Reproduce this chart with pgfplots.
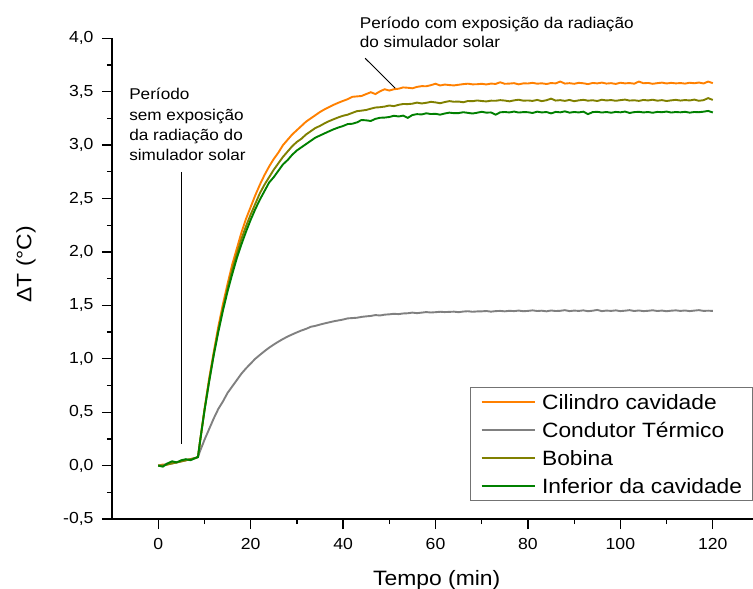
\documentclass[border=0pt]{standalone}
\usepackage{fontspec}
\setmainfont{Liberation Sans}[FakeStretch=1.1]
\usepackage{pgfplots}
\usepackage{pgfplotstable}
\pgfplotsset{compat=1.18}

\definecolor{corange}{RGB}{255,128,0}
\definecolor{cgray}{RGB}{128,128,128}
\definecolor{colive}{RGB}{128,128,0}
\definecolor{cgreen}{RGB}{0,128,0}

% t (min)   Cilindro  Condutor  Bobina  Inferior
\pgfplotstableread{
t    cil   cond  bob   inf
0    0.00  0.00  0.00  0.00
1    0.01  0.00  0.00  -0.01
2    0.01  0.02  0.01  0.02
3    0.03  0.02  0.02  0.04
4    0.03  0.03  0.03  0.03
5    0.04  0.04  0.04  0.05
6    0.05  0.05  0.05  0.06
7    0.06  0.06  0.06  0.05
8    0.07  0.07  0.07  0.07
8.6  0.08  0.08  0.08  0.08
9    0.21  0.13  0.21  0.21
10   0.52  0.24  0.52  0.51
11   0.81  0.34  0.79  0.78
12   1.06  0.44  1.04  1.03
13   1.30  0.53  1.27  1.25
14   1.51  0.60  1.47  1.45
15   1.70  0.68  1.66  1.63
16   1.88  0.74  1.83  1.79
17   2.03  0.80  1.98  1.94
18   2.18  0.86  2.12  2.07
19   2.31  0.91  2.24  2.19
20   2.42  0.955 2.35  2.30
21   2.53  1.00  2.45  2.40
22   2.63  1.036 2.55  2.49
23   2.72  1.071 2.63  2.57
24   2.80  1.104 2.70  2.65
25   2.87  1.133 2.77  2.70
26   2.93  1.160 2.83  2.76
27   3.00  1.185 2.89  2.82
28   3.05  1.208 2.94  2.86
29   3.10  1.228 2.99  2.91
30   3.14  1.247 3.03  2.95
31   3.18  1.265 3.06  2.98
32   3.22  1.280 3.10  3.01
33   3.25  1.299 3.13  3.04
34   3.28  1.308 3.16  3.07
35   3.31  1.320 3.18  3.09
36   3.335 1.331 3.204 3.11
37   3.357 1.341 3.225 3.13
38   3.378 1.351 3.243 3.149
39   3.397 1.359 3.260 3.165
40   3.414 1.367 3.275 3.179
41   3.43  1.378 3.285 3.197
42   3.452 1.381 3.302 3.200
43   3.456 1.384 3.318 3.213
44   3.46  1.392 3.323 3.235
45   3.478 1.397 3.329 3.232
46   3.495 1.401 3.341 3.226
47   3.478 1.409 3.352 3.246
48   3.504 1.405 3.355 3.256
49   3.523 1.413 3.361 3.258
50   3.511 1.416 3.371 3.263
51   3.523 1.421 3.365 3.275
52   3.528 1.418 3.377 3.268
53   3.540 1.424 3.385 3.276
54   3.537 1.426 3.384 3.255
55   3.532 1.432 3.388 3.282
56   3.545 1.427 3.398 3.290
57   3.552 1.432 3.390 3.287
58   3.551 1.437 3.396 3.298
59   3.561 1.433 3.405 3.291
60   3.575 1.436 3.400 3.293
61   3.558 1.440 3.392 3.285
62   3.567 1.437 3.403 3.296
63   3.562 1.439 3.412 3.304
64   3.559 1.441 3.406 3.299
65   3.565 1.436 3.408 3.300
66   3.571 1.442 3.401 3.308
67   3.575 1.445 3.413 3.302
68   3.569 1.440 3.411 3.296
69   3.570 1.443 3.418 3.303
70   3.574 1.444 3.413 3.312
71   3.568 1.447 3.409 3.304
72   3.576 1.441 3.416 3.306
73   3.573 1.446 3.415 3.285
74   3.588 1.448 3.421 3.307
75   3.574 1.444 3.417 3.310
76   3.576 1.449 3.410 3.306
77   3.580 1.446 3.419 3.314
78   3.569 1.451 3.425 3.305
79   3.578 1.445 3.416 3.309
80   3.577 1.448 3.418 3.308
81   3.583 1.453 3.414 3.301
82   3.575 1.447 3.423 3.313
83   3.579 1.450 3.412 3.306
84   3.572 1.444 3.420 3.310
85   3.581 1.452 3.435 3.297
86   3.578 1.447 3.417 3.311
87   3.595 1.449 3.421 3.307
88   3.576 1.455 3.414 3.316
89   3.580 1.446 3.423 3.304
90   3.574 1.451 3.411 3.310
91   3.583 1.448 3.419 3.306
92   3.579 1.453 3.424 3.313
93   3.571 1.445 3.416 3.290
94   3.582 1.450 3.420 3.309
95   3.578 1.457 3.413 3.312
96   3.585 1.446 3.425 3.305
97   3.576 1.451 3.418 3.310
98   3.580 1.448 3.422 3.303
99   3.573 1.453 3.415 3.311
100  3.584 1.446 3.421 3.307
101  3.578 1.450 3.426 3.314
102  3.581 1.455 3.417 3.301
103  3.575 1.447 3.420 3.309
104  3.595 1.452 3.414 3.312
105  3.579 1.446 3.423 3.306
106  3.582 1.449 3.418 3.310
107  3.574 1.454 3.425 3.303
108  3.580 1.447 3.416 3.311
109  3.585 1.451 3.421 3.308
110  3.577 1.445 3.413 3.314
111  3.583 1.450 3.419 3.305
112  3.578 1.453 3.424 3.310
113  3.581 1.448 3.417 3.307
114  3.576 1.452 3.422 3.312
115  3.584 1.446 3.418 3.304
116  3.579 1.451 3.426 3.310
117  3.586 1.455 3.415 3.308
118  3.577 1.448 3.421 3.313
119  3.595 1.450 3.440 3.320
120  3.580 1.448 3.423 3.306
}\datatable

\begin{document}
\begin{tikzpicture}
\begin{axis}[
  scale only axis,
  width=641pt, height=480.7pt,
  xmin=-10, xmax=128.7,
  ymin=-0.5, ymax=4.0,
  axis lines*=left,
  axis line style={line width=1.4pt},
  clip=false,
  xtick={0,20,...,120},
  ytick={-0.5,0,...,4.0},
  minor x tick num=1,
  minor y tick num=1,
  tick align=outside,
  major tick length=10pt,
  minor tick length=5pt,
  tick style={black, line width=1.3pt},
  /pgf/number format/assume math mode=true,
  tick label style={font=\fontsize{16}{19}\selectfont},
  yticklabel style={xshift=-5pt},
  xticklabel style={yshift=-6pt},
  yticklabel={\pgfmathprintnumber[fixed,fixed zerofill,precision=1,use comma]{\tick}},
  legend style={
    at={(rel axis cs:0.9992,0.275)}, anchor=north east,
    draw=black!55, line width=0.8pt,
    inner xsep=10pt, inner ysep=7pt,
    font=\fontsize{20.7}{24}\selectfont,
    row sep=13.2pt,
    nodes={inner sep=0pt, text height=15pt, text depth=0pt},
    cells={anchor=west},
    /tikz/every odd column/.append style={column sep=6pt},
  },
  legend image code/.code={\draw[#1, line width=2pt] (0pt,0pt) -- (53.5pt,0pt);},
  every axis plot/.append style={line width=1.9pt},
]
\addplot[corange] table[x=t, y=cil] {\datatable};
\addlegendentry{Cilindro cavidade}
\addplot[cgray] table[x=t, y=cond] {\datatable};
\addlegendentry{Condutor Térmico}
\addplot[colive] table[x=t, y=bob] {\datatable};
\addlegendentry{Bobina}
\addplot[cgreen] table[x=t, y=inf] {\datatable};
\addlegendentry{Inferior da cavidade}

\draw[black, line width=1pt] (axis cs:5.13,2.749) -- (axis cs:5.13,0.202);
\draw[black, line width=1pt] (axis cs:44.77,3.814) -- (axis cs:51.27,3.533);

\begin{scope}[every node/.style={anchor=base west, inner sep=0pt, font=\fontsize{15.6}{18}\selectfont}]
\node at (axis cs:-6.3,3.423) {Período};
\node at (axis cs:-6.3,3.233) {sem exposição};
\node at (axis cs:-6.3,3.043) {da radiação do};
\node at (axis cs:-6.3,2.852) {simulador solar};
\node at (axis cs:43.6,4.093) {Período com exposição da radiação};
\node at (axis cs:43.6,3.910) {do simulador solar};
\end{scope}

\node[rotate=90, anchor=base, inner sep=0pt, font=\fontsize{20.8}{24}\selectfont]
  at ([xshift=-80.5pt]rel axis cs:0,0.53) {ΔT (°C)};
\node[anchor=base, inner sep=0pt, font=\fontsize{20.8}{24}\selectfont]
  at ([yshift=-66pt]rel axis cs:0.5066,0) {Tempo (min)};

\coordinate (bl) at (rel axis cs:0,0);
\coordinate (tr) at (rel axis cs:1,1);
\end{axis}
\pgfresetboundingbox
\path ([shift={(-112pt,-70pt)}]bl) rectangle ([shift={(0pt,38.3pt)}]tr);
\end{tikzpicture}
\end{document}
